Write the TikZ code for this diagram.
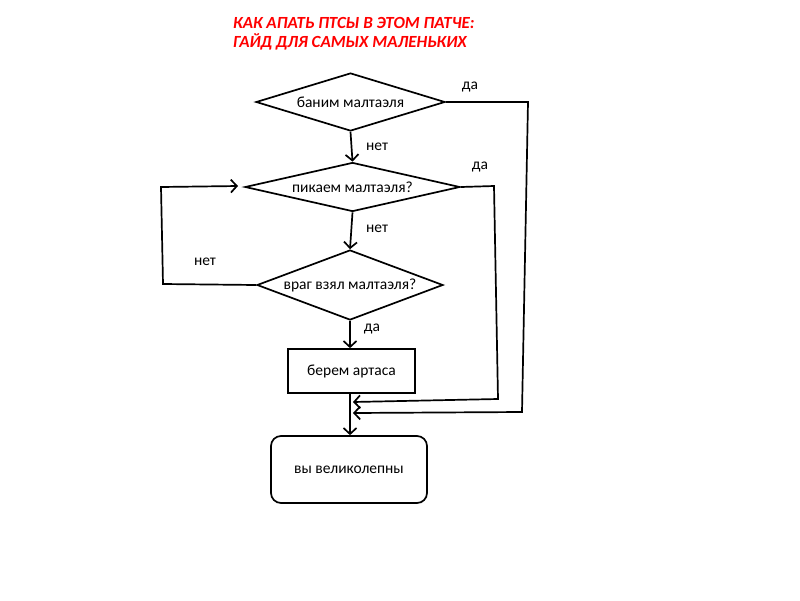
\documentclass[tikz,border=0pt]{standalone}
\usepackage{fontspec}
\setmainfont{Carlito}
\usetikzlibrary{shapes.geometric,arrows.meta}
\begin{document}
\begin{tikzpicture}[x=1pt,y=-1pt,
  every node/.style={font=\fontsize{15.5}{18}\selectfont},
  flow/.style={line width=1.7pt, line join=miter},
  arr/.style={flow, -{Straight Barb[length=6pt,width=13pt,line width=1.7pt]}},
  dec/.style={diamond, draw, line width=1.7pt, inner sep=0pt},
  box/.style={rectangle, draw, line width=1.7pt, inner sep=0pt},
  lbl/.style={inner sep=0pt},
  title/.style={text=red, font=\fontsize{17}{19}\selectfont\bfseries\itshape, align=left, anchor=north west, inner sep=0pt}
]
\useasboundingbox (0,0) rectangle (800,600);
\fill[white] (0,0) rectangle (800,600);

\node[title] (t) at (233,17) {КАК АПАТЬ ПТСЫ В ЭТОМ ПАТЧЕ:\\ГАЙД ДЛЯ САМЫХ МАЛЕНЬКИХ};

\node[dec, minimum width=189, minimum height=58] (d1) at (350.5,102) {\makebox[0pt]{баним малтаэля}};
\node[dec, minimum width=215, minimum height=49] (d2) at (352.5,187) {\makebox[0pt]{пикаем малтаэля?}};
\node[dec, minimum width=186, minimum height=70] (d3) at (350,285) {\makebox[0pt]{враг взял малтаэля?}};
\node[box, minimum width=127, minimum height=44] (b1) at (351.5,371) {берем артаса};
\node[box, rounded corners=10pt, minimum width=156, minimum height=67] (b2) at (349,469.5) {вы великолепны};

\coordinate (a1) at (353,402);
\coordinate (a2) at (353,413);
\coordinate (bt) at (350,393);

% d1 -> d2 (нет)
\draw[arr] (d1.south) -- (d2.north);
\node[lbl] (n1) at (377,147) {нет};
% d2 -> d3 (нет)
\draw[arr] (d2.south) -- (d3.north);
\node[lbl] (n2) at (377,229) {нет};
% d3 -> b1 (да)
\draw[arr] (d3.south) -- (b1.north -| d3.south);
\node[lbl] (y3) at (372,329) {да};
% b1 -> b2
\draw[arr] (bt) -- (bt |- b2.north);

% d1 да
\draw[arr] (d1.east) -- (528,102) -- (522,412) -- (a2);
\node[lbl] (y1) at (470,87) {да};
% d2 да
\draw[arr] (d2.east) -- (494,186) -- (498,399) -- (a1);
\node[lbl] (y2) at (480,167) {да};
% d3 нет loop
\draw[arr] (d3.west) -- (163,284) -- (161,187) -- (238,186);
\node[lbl] (n3) at (205,262) {нет};
\end{tikzpicture}
\end{document}
